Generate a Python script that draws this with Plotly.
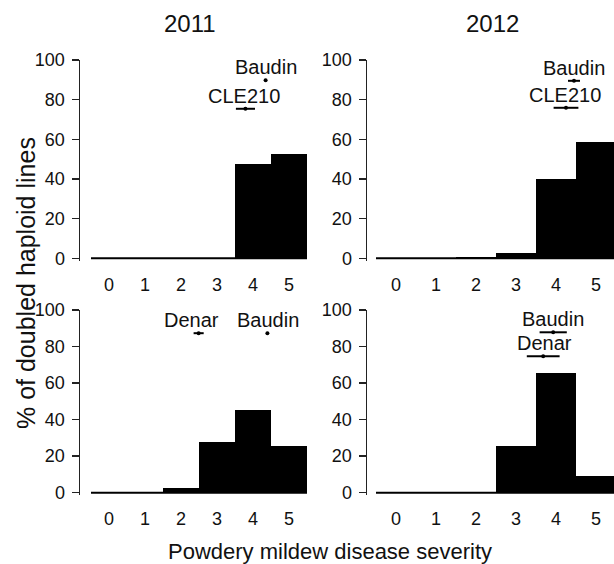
import plotly.graph_objects as go

W, H = 614, 564

# ---------------- data ----------------
severity = [0, 1, 2, 3, 4, 5]
severity_labels = ["0", "1", "2", "3", "4", "5"]
pct_ticks = [0, 20, 40, 60, 80, 100]
year_titles = ["2011", "2012"]

# % of doubled haploid lines per severity class
top_2011 = [0, 0, 0, 0, 47.5, 52.5]
top_2012 = [0, 0, 0.6, 2.7, 39.8, 58.5]
bottom_2011 = [0, 0, 2.8, 27.5, 45.0, 25.5]
bottom_2012 = [0, 0, 0, 25.5, 65.5, 9.0]

# parental cultivars: mean severity, half-range, plotting height
top_2011_names = ["Baudin", "CLE210"]
top_2011_mean = [4.35, 3.79]
top_2011_err = [0.0, 0.265]
top_2011_y = [89.8, 75.4]
top_2011_label_x = [4.35, 3.75]

top_2012_names = ["Baudin", "CLE210"]
top_2012_mean = [4.45, 4.25]
top_2012_err = [0.15, 0.31]
top_2012_y = [89.5, 75.9]
top_2012_label_x = [4.45, 4.22]

bottom_2011_names = ["Denar", "Baudin"]
bottom_2011_mean = [2.49, 4.4]
bottom_2011_err = [0.14, 0.0]
bottom_2011_y = [87.3, 87.3]
bottom_2011_label_x = [2.3, 4.42]

bottom_2012_names = ["Baudin", "Denar"]
bottom_2012_mean = [3.93, 3.68]
bottom_2012_err = [0.34, 0.41]
bottom_2012_y = [87.8, 74.7]
bottom_2012_label_x = [3.93, 3.71]

# ---------------- layout helpers ----------------
FONT = "Arial, Liberation Sans, Helvetica, sans-serif"
TXT = "#111111"


def px_x(p):
    return p / W


def px_y(p):
    return 1 - p / H


# panel pixel geometry: (axis px, right px, bar-left px, bar width px)
col_geom = [(80, 307, 91, 36), (367, 614, 376, 40)]
# rows: (px of 100, px of 0)
row_geom = [(60, 258.3), (310, 492.7)]
YMIN = -1.3

panels = [
    (0, 0, top_2011, top_2011_names, top_2011_mean, top_2011_err, top_2011_y, top_2011_label_x),
    (0, 1, top_2012, top_2012_names, top_2012_mean, top_2012_err, top_2012_y, top_2012_label_x),
    (1, 0, bottom_2011, bottom_2011_names, bottom_2011_mean, bottom_2011_err, bottom_2011_y, bottom_2011_label_x),
    (1, 1, bottom_2012, bottom_2012_names, bottom_2012_mean, bottom_2012_err, bottom_2012_y, bottom_2012_label_x),
]

fig = go.Figure()
layout = {}
annotations = []

for i, (r, c, vals, names, means, errs, ys, lx) in enumerate(panels):
    n = "" if i == 0 else str(i + 1)
    xa, ya = "x" + n, "y" + n
    ax_px, right_px, bar0_px, bw = col_geom[c]
    top_px, zero_px = row_geom[r]
    unit = (zero_px - top_px) / 100.0
    x0 = -0.5 - (bar0_px - ax_px) / bw
    x1 = -0.5 + (right_px - bar0_px) / bw
    ybot_px = zero_px - YMIN * unit

    fig.add_trace(go.Bar(x=severity, y=vals, xaxis=xa, yaxis=ya,
                         marker=dict(color="black", line=dict(width=0)),
                         width=1.0, showlegend=False))
    # baseline along the histogram (outlines of empty classes)
    fig.add_trace(go.Scatter(x=[severity[0] - 0.5, severity[-1] + 0.5], y=[0, 0],
                             xaxis=xa, yaxis=ya, mode="lines",
                             line=dict(color="black", width=2), showlegend=False))
    fig.add_trace(go.Scatter(x=means, y=ys, xaxis=xa, yaxis=ya, mode="markers",
                             marker=dict(color="black", size=4),
                             error_x=dict(type="data", array=errs, visible=True,
                                          color="black", thickness=2, width=0),
                             showlegend=False, cliponaxis=False))
    for name, xx, yy in zip(names, lx, ys):
        annotations.append(dict(x=xx, y=yy, xref=xa, yref=ya, text=name,
                                showarrow=False, xanchor="center", yanchor="middle",
                                yshift=13, font=dict(size=20, color=TXT, family=FONT)))

    key = "" if i == 0 else str(i + 1)
    layout["xaxis" + key] = dict(
        domain=[px_x(ax_px), px_x(right_px)], range=[x0, x1], anchor=ya,
        showline=False, ticks="", showgrid=False, zeroline=False, automargin=False,
        tickmode="array", tickvals=severity, ticktext=severity_labels,
        ticklabelstandoff=11,
        tickfont=dict(size=18, color=TXT, family=FONT))
    layout["yaxis" + key] = dict(
        domain=[px_y(ybot_px), px_y(top_px)], range=[YMIN, 100], anchor=xa,
        showline=True, linecolor="#222222", linewidth=1.5, automargin=False,
        ticks="outside", ticklen=7, tickwidth=1.5, tickcolor="#222222",
        showgrid=False, zeroline=False,
        tickmode="array", tickvals=pct_ticks,
        ticklabelstandoff=3,
        tickfont=dict(size=18, color=TXT, family=FONT))

# column titles
for title, cx in zip(year_titles, [190, 492]):
    annotations.append(dict(x=px_x(cx), y=px_y(24), xref="paper", yref="paper",
                            text=title, showarrow=False, xanchor="center", yanchor="middle",
                            font=dict(size=24, color=TXT, family=FONT)))

# shared axis titles
annotations.append(dict(x=px_x(330), y=px_y(551), xref="paper", yref="paper",
                        text="Powdery mildew disease severity", showarrow=False,
                        xanchor="center", yanchor="middle",
                        font=dict(size=22, color=TXT, family=FONT)))
annotations.append(dict(x=px_x(26), y=px_y(283), xref="paper", yref="paper",
                        text="% of doubled haploid lines", showarrow=False, textangle=-90,
                        xanchor="center", yanchor="middle",
                        font=dict(size=25, color=TXT, family=FONT)))

fig.update_layout(width=W, height=H,
                  margin=dict(l=0, r=0, t=0, b=0, pad=0, autoexpand=False),
                  paper_bgcolor="white", plot_bgcolor="white",
                  bargap=0, annotations=annotations, **layout)

fig.write_html(
    "out.html",
    config={"displayModeBar": False, "staticPlot": True},
    post_script=(
        "document.documentElement.style.margin='0';"
        "document.documentElement.style.padding='0';"
        "document.documentElement.style.overflow='hidden';"
        "document.body.style.margin='0';"
        "document.body.style.padding='0';"
        "document.body.style.overflow='hidden';"
        "var d=document.getElementById('{plot_id}');"
        "d.style.position='fixed';d.style.top='0px';d.style.left='0px';"
    ),
)
